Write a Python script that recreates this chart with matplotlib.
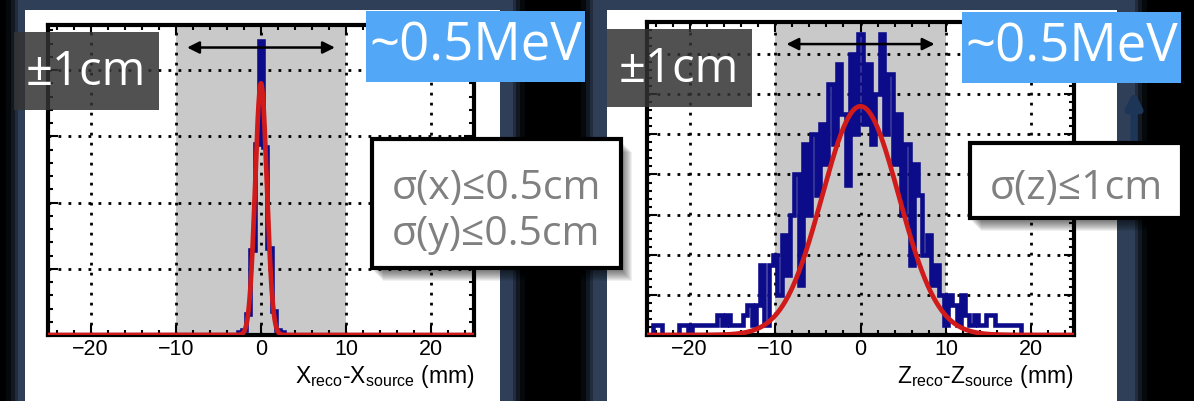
import numpy as np
import matplotlib.pyplot as plt
from matplotlib.patches import Rectangle
from matplotlib.ticker import AutoMinorLocator, MultipleLocator

plt.rcParams['font.family'] = ['Liberation Sans', 'DejaVu Sans']
plt.rcParams['mathtext.fontset'] = 'custom'
plt.rcParams['mathtext.rm'] = 'Liberation Sans'
plt.rcParams['mathtext.it'] = 'Liberation Sans:italic'

# ---- data: residual histograms, 0.5 mm bins centred on -25 ... 25 mm ----
bin_centers = np.arange(-25.0, 25.01, 0.5)
bin_width = 0.5

# transverse (x) residuals
counts_x = [0] * 45 + [1, 2, 8, 32, 72, 111, 71, 33, 9, 2, 1] + [0] * 45
fit_x = dict(amp=95.0, mu=0.0, sigma=0.68)

# longitudinal (z) residuals
counts_z = [0, 0, 1, 1, 0, 0, 0, 0, 1, 1,
            0, 1, 1, 1, 1, 1, 1, 2, 1, 2,
            1, 1, 1, 2, 3, 1, 3, 7, 1, 7,
            8, 4, 10, 6, 12, 16, 5, 19, 12, 20,
            14, 21, 17, 25, 19, 27, 22, 15, 28, 20,
            30, 21, 27, 19, 24, 30, 20, 26, 17, 22,
            12, 19, 7, 17, 14, 8, 10, 5, 7, 4,
            1, 4, 3, 1, 4, 2, 1, 2, 1, 1,
            2, 2, 1, 1, 1, 1, 1, 1, 0, 0,
            0, 0, 0, 0, 0, 0, 0, 0, 0, 0,
            0]
fit_z = dict(amp=22.8, mu=0.0, sigma=4.5)

x_ticks = [-20, -10, 0, 10, 20]
window = (-10, 10)

HIST_BLUE = '#0c0c8a'
FIT_RED = '#d11a1a'
SHADE = '#c9c9c9'
NAVY = '#2e3f57'

W, H = 1194, 401
fig = plt.figure(figsize=(W / 100, H / 100), dpi=100, facecolor='black')

# backdrop in pixel units
bg = fig.add_axes([0, 0, 1, 1], zorder=0)
bg.set_xlim(0, W)
bg.set_ylim(H, 0)
bg.axis('off')
bg.set_facecolor('black')
for x0, x1 in [(18, 513), (593, 1135)]:
    for pad, a in [(12, 0.15), (7, 0.3), (3, 0.55), (0, 1.0)]:
        bg.add_patch(Rectangle((x0 - pad, -5), x1 - x0 + 2 * pad, H + 10,
                               color=NAVY, alpha=a, lw=0))
bg.add_patch(Rectangle((25, 10), 475, H, color='white', lw=0))
bg.add_patch(Rectangle((607, 10), 510, H, color='white', lw=0))
# arrow of the slide behind the right panel
bg.annotate('', xy=(1134, 88), xytext=(1134, 160),
            arrowprops=dict(arrowstyle='-|>', color='#1d3557', lw=5,
                            mutation_scale=22))


def residual_panel(rect, counts, fit, ylim, ystep, arrow_y, label):
    ax = fig.add_axes(rect, zorder=2)
    ax.set_facecolor('white')
    edges = np.append(bin_centers - bin_width / 2, bin_centers[-1] + bin_width / 2)
    ax.axvspan(*window, color=SHADE, lw=0, zorder=0.2)
    ax.stairs(counts, edges, color=HIST_BLUE, lw=3.3, zorder=2)
    xs = np.linspace(-25, 25, 1500)
    ys = fit['amp'] * np.exp(-0.5 * ((xs - fit['mu']) / fit['sigma']) ** 2)
    ax.plot(xs, ys, color=FIT_RED, lw=3.4, zorder=3)
    ax.annotate('', xy=(window[0] + 1, arrow_y), xytext=(window[1] - 1, arrow_y),
                arrowprops=dict(arrowstyle='<|-|>', color='black', lw=1.8,
                                mutation_scale=18), zorder=4)

    ax.set_xlim(-25, 25)
    ax.set_ylim(0, ylim)
    ax.set_xticks(x_ticks)
    ax.set_xticklabels([f'{t}'.replace('-', '\u2212') for t in x_ticks])
    ax.yaxis.set_major_locator(MultipleLocator(ystep))
    ax.xaxis.set_minor_locator(AutoMinorLocator(5))
    ax.yaxis.set_minor_locator(AutoMinorLocator(5))
    ax.tick_params(which='both', direction='in', top=True, right=True,
                   labelleft=False, width=1.5, labelsize=15.5, pad=3)
    ax.tick_params(which='major', length=7)
    ax.tick_params(which='minor', length=3.5)
    ax.grid(True, which='major', color='black', linestyle=(0, (1, 2.6)), lw=2.0)
    ax.set_axisbelow(True)
    for sp in ax.spines.values():
        sp.set_linewidth(3)
    ax.set_xlabel(label, fontsize=16.5, loc='right')
    ax.xaxis.set_label_coords(1.0, -0.09)
    return ax


residual_panel([48 / W, 66 / H, 426 / W, 310 / H], counts_x, fit_x,
               117, 25, 108.5,
               r'$\mathrm{X_{reco}}$-$\mathrm{X_{source}}$ (mm)')
residual_panel([647 / W, 66 / H, 427 / W, 313 / H], counts_z, fit_z,
               31.2, 4, 29.0,
               r'$\mathrm{Z_{reco}}$-$\mathrm{Z_{source}}$ (mm)')

# call-out boxes on top, pixel units
ov = fig.add_axes([0, 0, 1, 1], zorder=10)
ov.set_xlim(0, W)
ov.set_ylim(H, 0)
ov.axis('off')
ov.patch.set_alpha(0)

LABEL_FONT = ['Open Sans', 'DejaVu Sans']

for x, y in [(14, 32), (607, 29)]:
    ov.add_patch(Rectangle((x, y), 145, 78, color='#333333', alpha=0.85, lw=0))
    ov.text(x + 72, y + 40, '\u00b11cm', color='white', fontsize=34,
            family=LABEL_FONT, ha='center', va='center')

for x, y in [(366, 11), (962, 12)]:
    ov.add_patch(Rectangle((x, y), 219, 71, color='#52a7f6', lw=0))
    ov.text(x + 110, y + 36, '~0.5MeV', color='white', fontsize=38,
            family=LABEL_FONT, ha='center', va='center')


def sigma_box(x, y, w, h, lines, baselines):
    for k in range(10):
        ov.add_patch(Rectangle((x + 2 + k, y + 4 + k), w, h, color='black',
                               alpha=0.06, lw=0))
    ov.add_patch(Rectangle((x, y), w, h, facecolor='white', edgecolor='black', lw=3))
    for txt, base in zip(lines, baselines):
        ov.text(x + w / 2, base, txt, color='#808080', fontsize=29.5,
                family=LABEL_FONT, ha='center', va='baseline')


sigma_box(372, 139, 249, 129, ['\u03c3(x)\u22640.5cm', '\u03c3(y)\u22640.5cm'], [199, 245])
sigma_box(970, 143, 212, 75, ['\u03c3(z)\u22641cm'], [199])

fig.savefig('out.png', dpi=100, facecolor='black')
